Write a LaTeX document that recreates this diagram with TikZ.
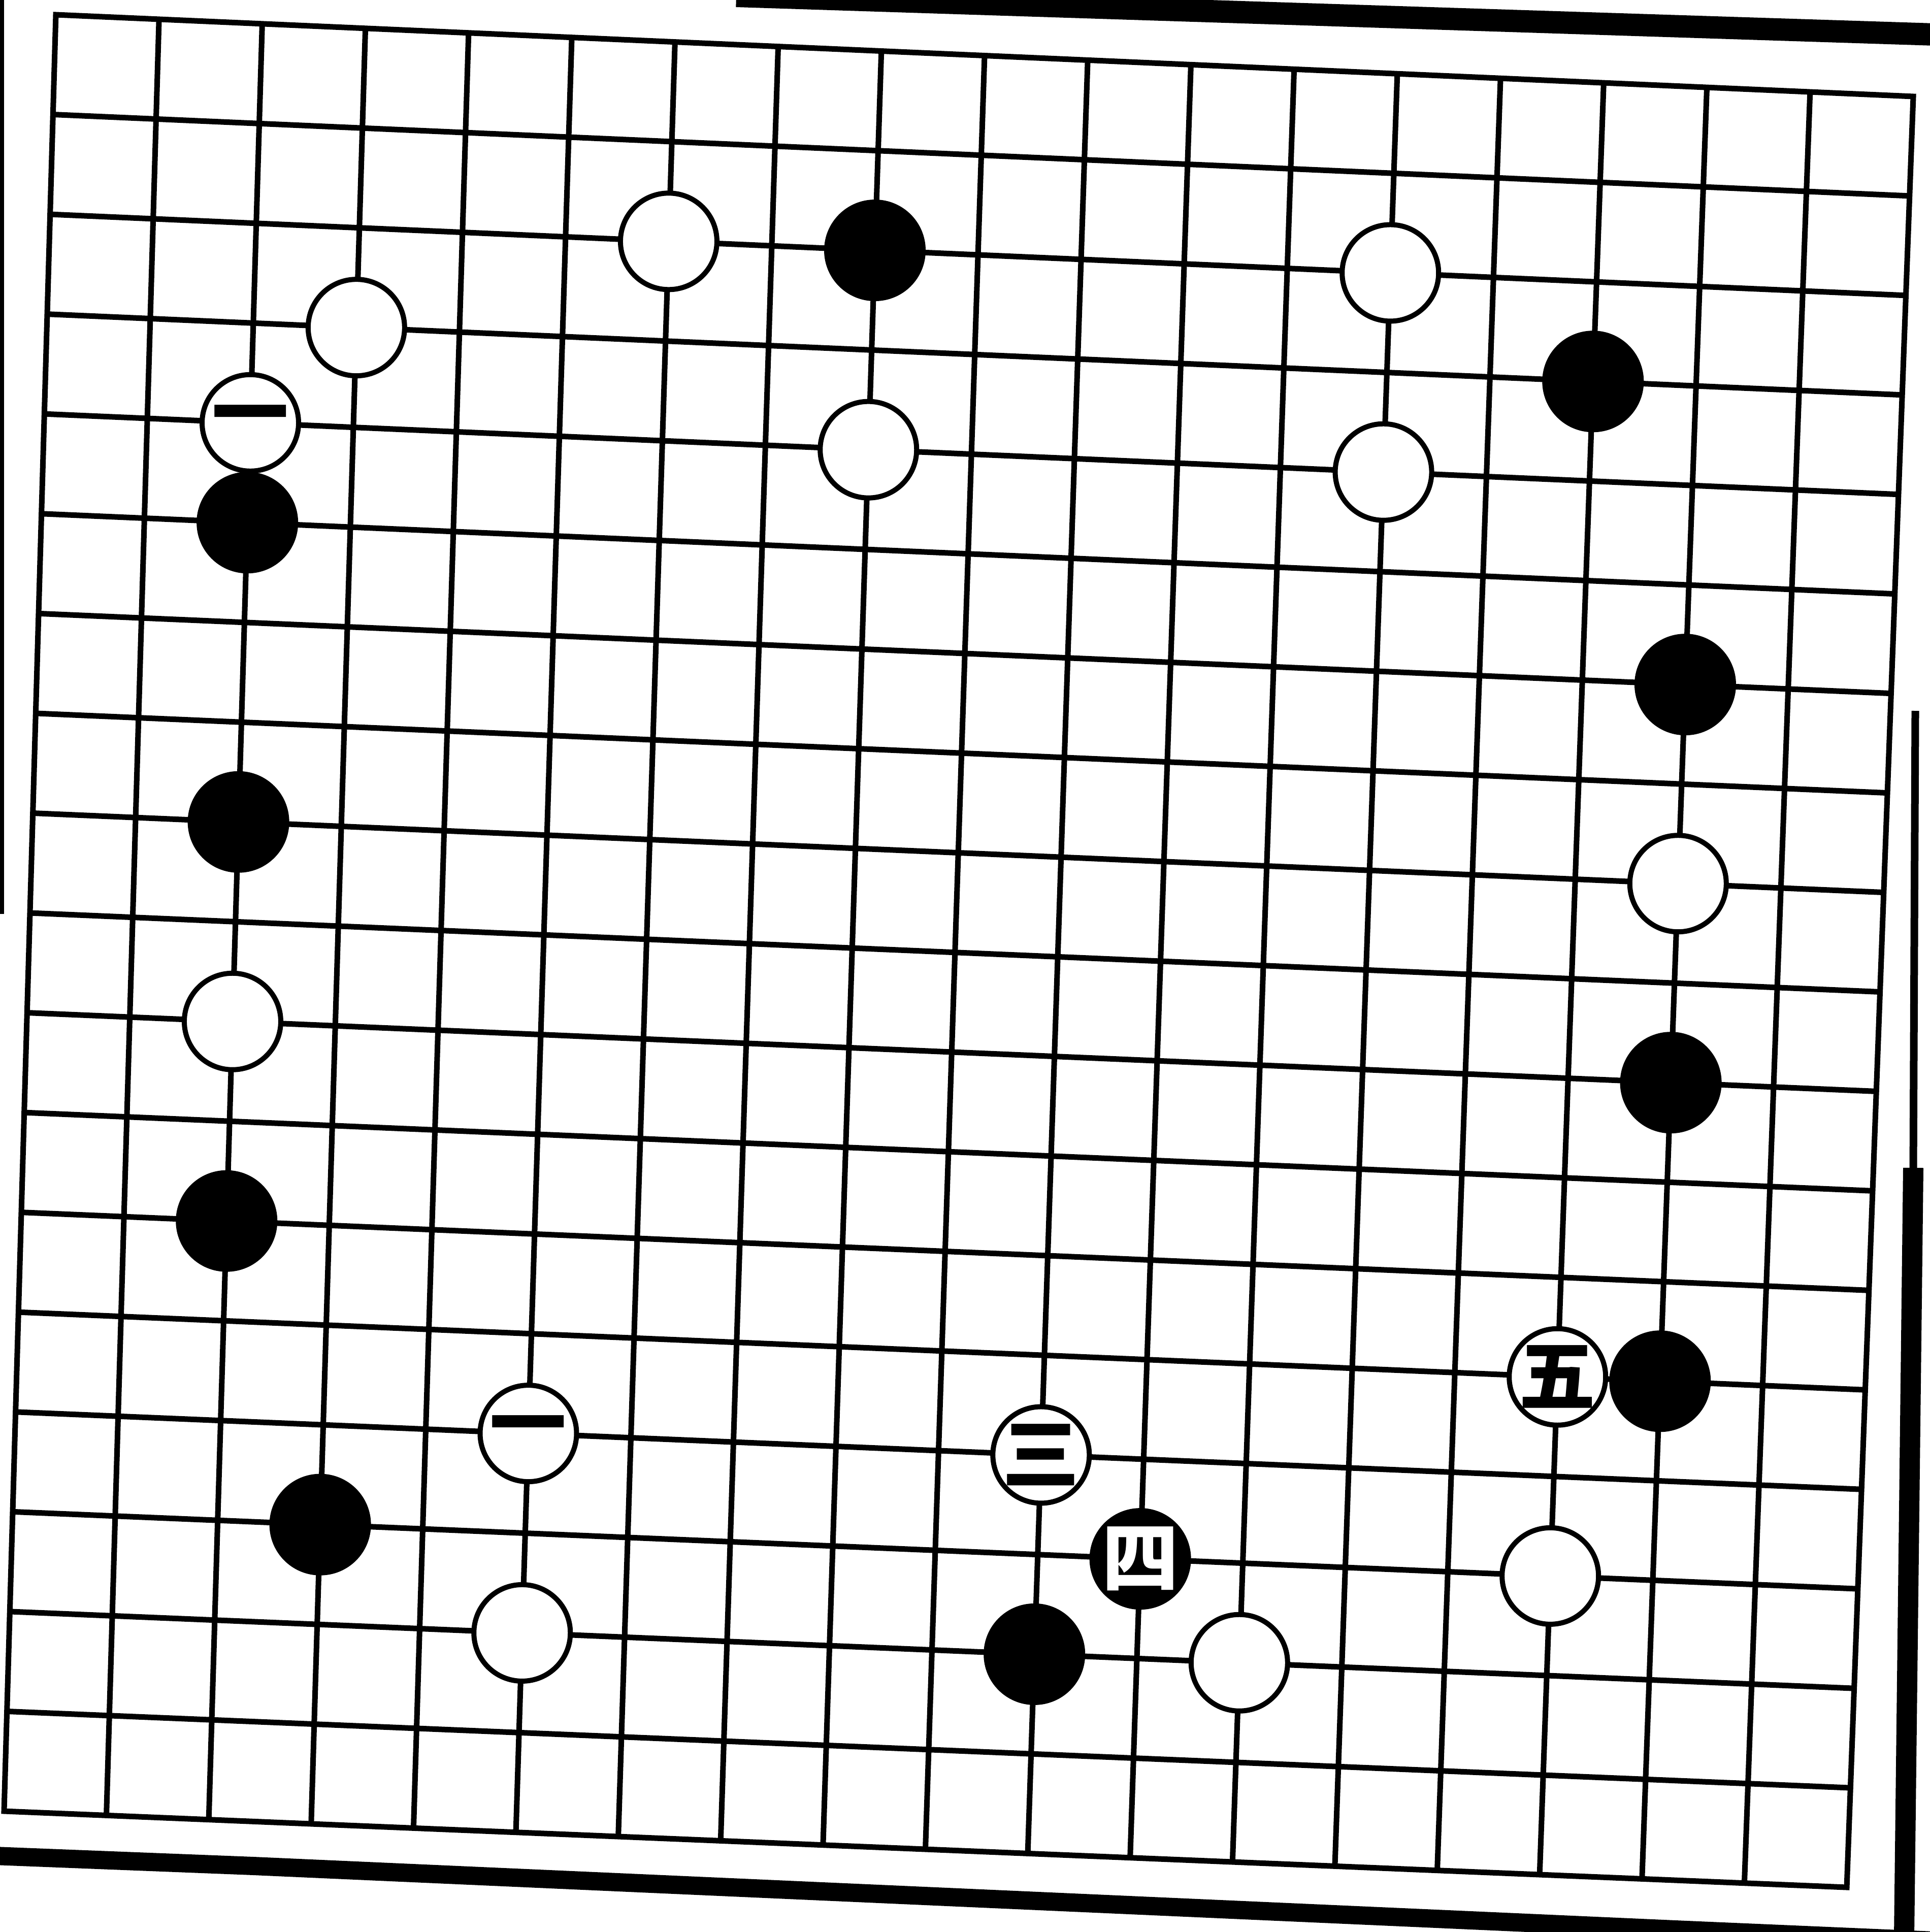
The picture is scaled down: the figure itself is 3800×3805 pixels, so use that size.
\documentclass[tikz,border=0pt]{standalone}
\usepackage{fontspec}
\newfontfamily\cjk{Noto Sans CJK SC}
\begin{document}
\begin{tikzpicture}[x=0.1mm,y=-0.1mm,
  gridline/.style={line width=1.1mm, black},
  stone/.style={circle, minimum size=19mm, inner sep=0pt, line width=1.0mm, draw=black},
  wstone/.style={stone, fill=white},
  bstone/.style={stone, fill=black},
  wtext/.style={inner sep=0pt, text=black, font=\cjk\bfseries\fontsize{43}{43}\selectfont},
  btext/.style={wtext, text=white},
  scanedge/.style={black, line cap=butt}]
\useasboundingbox (0,0) rectangle (3800,3805);
\fill[white] (0,0) rectangle (3800,3805);
% grid intersections (bilinear map of the hand-drawn board)
\foreach \i in {0,...,18}{
  \foreach \j in {0,...,18}{
    \pgfmathsetmacro\uu{\i/18}
    \pgfmathsetmacro\vv{\j/18}
    \pgfmathsetmacro\px{(1-\vv)*((1-\uu)*110+\uu*3768)+\vv*((1-\uu)*8+\uu*3637)}
    \pgfmathsetmacro\py{(1-\vv)*((1-\uu)*29+\uu*190)+\vv*((1-\uu)*3567+\uu*3717)}
    \coordinate (p-\i-\j) at (\px,\py);
  }
}
% grid
\draw[gridline] (p-0-0) -- (p-18-0) -- (p-18-18) -- (p-0-18) -- cycle;
\foreach \k in {1,...,17}{
  \draw[gridline] (p-\k-0) -- (p-\k-18);
  \draw[gridline] (p-0-\k) -- (p-18-\k);
}
% scan edges
\draw[scanedge, line width=4.4mm] (1450,-8) -- (3810,68);
\draw[scanedge, line width=3.6mm] (-10,3655) -- (500,3675) -- (3300,3800) -- (3810,3822);
\draw[scanedge, line width=1.5mm] (3772,1400) -- (3768,2300);
\draw[scanedge, line width=4mm] (3768,2300) -- (3750,3810);
\draw[scanedge, line width=0.8mm] (4,0) -- (4,1800);
% stones
\node[wstone] (s1)  at (p-6-2)  {};
\node[bstone] (s2)  at (p-8-2)  {};
\node[wstone] (s3)  at (p-13-2) {};
\node[wstone] (s4)  at (p-3-3)  {};
\node[bstone] (s5)  at (p-15-3) {};
\node[wstone, label={[wtext]center:一}] (s6) at (p-2-4) {};
\node[wstone] (s7)  at (p-8-4)  {};
\node[wstone] (s8)  at (p-13-4) {};
\node[bstone] (s9)  at (p-2-5)  {};
\node[bstone] (s10) at (p-16-6) {};
\node[bstone] (s11) at (p-2-8)  {};
\node[wstone] (s12) at (p-16-8) {};
\node[wstone] (s13) at (p-2-10) {};
\node[bstone] (s14) at (p-16-10) {};
\node[bstone] (s15) at (p-2-12) {};
\node[wstone, label={[wtext]center:五}] (s16) at (p-15-13) {};
\node[bstone] (s17) at (p-16-13) {};
\node[wstone, label={[wtext]center:一}] (s18) at (p-5-14) {};
\node[wstone, label={[wtext]center:三}] (s19) at (p-10-14) {};
\node[bstone, label={[btext]center:四}] (s20) at (p-11-15) {};
\node[bstone] (s21) at (p-3-15) {};
\node[wstone] (s22) at (p-15-15) {};
\node[wstone] (s23) at (p-5-16) {};
\node[bstone] (s24) at (p-10-16) {};
\node[wstone] (s25) at (p-12-16) {};
\end{tikzpicture}
\end{document}
